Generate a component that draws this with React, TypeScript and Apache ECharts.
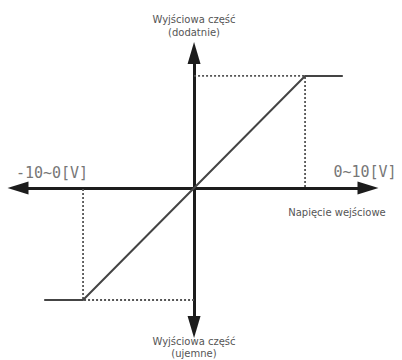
import React, { useEffect, useRef } from "react";
import * as echarts from "echarts";

// Transfer characteristic (input voltage -> output)
const transferCurve: number[][] = [
  [-13.5, -10],
  [-10, -10],
  [10, 10],
  [13.4, 10],
];
// Dotted guide lines to the axes
const guidePositive: number[][] = [
  [0, 10],
  [10, 10],
  [10, 0],
];
const guideNegative: number[][] = [
  [0, -10],
  [-10, -10],
  [-10, 0],
];
const xRange = [-15.86, 15.67];
const yRange = [-12.41, 12.05];

const rangeLabels = ["-10~0[V]", "0~10[V]"];
const axisTitles = [
  "Wyjściowa część\n(dodatnie)",
  "Wyjściowa część\n(ujemne)",
  "Napięcie wejściowe",
];

export default function App() {
  const ref = useRef<HTMLDivElement>(null);
  useEffect(() => {
    if (!ref.current) return;
    const chart = echarts.init(ref.current, null, { renderer: "svg" });
    const axisCommon = {
      type: "value" as const,
      axisLine: {
        show: true,
        onZero: true,
        symbol: ["triangle", "triangle"],
        lineStyle: { color: "#1c1c1c", width: 3 },
      },
      axisTick: { show: false },
      axisLabel: { show: false },
      splitLine: { show: false },
    };
    const smallText = {
      fill: "#555",
      fontSize: 10,
      fontFamily: "DejaVu Sans",
      align: "center",
      verticalAlign: "middle",
      lineHeight: 13,
    };
    const bigText = {
      fill: "#777",
      fontSize: 15,
      fontFamily: "DejaVu Sans Mono",
      align: "center",
      verticalAlign: "middle",
    };
    chart.setOption({
      animation: false,
      backgroundColor: "#fff",
      grid: { left: 18, right: 34, top: 53, bottom: 33, containLabel: false },
      xAxis: {
        ...axisCommon,
        min: xRange[0],
        max: xRange[1],
        axisLine: { ...axisCommon.axisLine, symbolSize: [13, 21] },
      },
      yAxis: {
        ...axisCommon,
        min: yRange[0],
        max: yRange[1],
        axisLine: { ...axisCommon.axisLine, symbolSize: [13, 22] },
      },
      series: [
        {
          type: "line",
          data: guidePositive,
          showSymbol: false,
          silent: true,
          lineStyle: { color: "#555", width: 1.8, type: [2, 2] },
        },
        {
          type: "line",
          data: guideNegative,
          showSymbol: false,
          silent: true,
          lineStyle: { color: "#555", width: 1.8, type: [2, 2] },
        },
        {
          type: "line",
          data: transferCurve,
          showSymbol: false,
          silent: true,
          lineStyle: { color: "#444", width: 2 },
        },
      ],
      graphic: [
        { type: "text", x: 194, y: 26, style: { ...smallText, text: axisTitles[0] } },
        { type: "text", x: 194, y: 347, style: { ...smallText, lineHeight: 12, text: axisTitles[1] } },
        { type: "text", x: 337, y: 212, style: { ...smallText, text: axisTitles[2] } },
        { type: "text", x: 52, y: 173, style: { ...bigText, text: rangeLabels[0] } },
        { type: "text", x: 365, y: 172, style: { ...bigText, text: rangeLabels[1] } },
      ],
    });
    return () => chart.dispose();
  }, []);
  return (
    <div
      ref={ref}
      style={{ position: "fixed", left: 0, top: 0, width: 402, height: 360, background: "#fff" }}
    />
  );
}
